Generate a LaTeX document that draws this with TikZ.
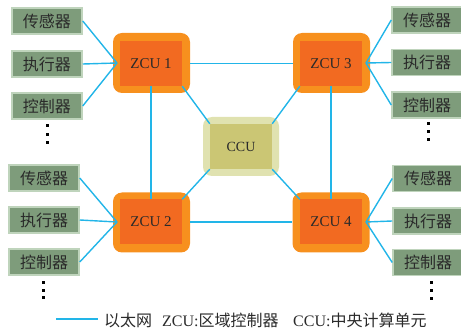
\documentclass[tikz,border=0pt]{standalone}
\usepackage{fontspec}
\setmainfont{Liberation Serif}
\newfontfamily\cjk{Noto Sans CJK SC}
\definecolor{boxfill}{HTML}{7E9C7B}
\definecolor{boxedge}{HTML}{BFD4BC}
\definecolor{zout}{HTML}{F7901E}
\definecolor{zin}{HTML}{F26A21}
\definecolor{cout}{HTML}{E0E2B0}
\definecolor{cin}{HTML}{CBC674}
\definecolor{net}{HTML}{22B5E8}
\definecolor{ink}{HTML}{2A2A2A}
\begin{document}
\begin{tikzpicture}[x=1pt,y=-1pt,
  devbox/.style={draw=boxedge,line width=1.5pt,fill=boxfill,minimum width=70pt,minimum height=26pt,inner sep=0pt,text=ink,font=\cjk\fontsize{16}{16}\selectfont},
  zouter/.style={fill=zout,rounded corners=9pt,minimum width=77pt,minimum height=60pt,inner sep=0pt},
  zinner/.style={fill=zin,minimum width=62pt,minimum height=45pt,inner sep=0pt,text=ink,font=\fontsize{15}{15}\selectfont},
  couter/.style={fill=cout,rounded corners=9pt,minimum width=76pt,minimum height=59pt,inner sep=0pt},
  cinner/.style={fill=cin,minimum width=62pt,minimum height=45pt,inner sep=0pt,text=ink,font=\fontsize{14}{14}\selectfont},
  link/.style={draw=net,line width=1.4pt},
  dot/.style={fill=black,minimum size=3pt,inner sep=0pt}
]
\useasboundingbox (0,0) rectangle (461,331);

% ZCU and CCU boxes
\node[zouter] (z1o) at (151.5,63) {};
\node[zinner] (z1) at (151,63.5) {ZCU 1};
\node[zouter] (z3o) at (331.5,63) {};
\node[zinner] (z3) at (331,63.5) {ZCU 3};
\node[zouter] (z2o) at (151.5,222.5) {};
\node[zinner] (z2) at (151,222) {ZCU 2};
\node[zouter] (z4o) at (331,222.5) {};
\node[zinner] (z4) at (331,222) {ZCU 4};
\node[couter] (co) at (241,146.5) {};
\node[cinner] (c) at (241,146.5) {CCU};

% device boxes
\node[devbox] (l1) at (47,21) {传感器};
\node[devbox] (l2) at (47,64) {执行器};
\node[devbox] (l3) at (47,106) {控制器};
\node[devbox] (l4) at (44,178) {传感器};
\node[devbox] (l5) at (44,220) {执行器};
\node[devbox] (l6) at (44,262) {控制器};
\node[devbox] (r1) at (427,20) {传感器};
\node[devbox] (r2) at (427,62.5) {执行器};
\node[devbox] (r3) at (427,105) {控制器};
\node[devbox] (r4) at (428,178.5) {传感器};
\node[devbox] (r5) at (428,221) {执行器};
\node[devbox] (r6) at (428,262.5) {控制器};

% dots
\foreach \yy [count=\i] in {126,134.5,143} \node[dot] (dl1\i) at (47,\yy) {};
\foreach \yy [count=\i] in {283,290.5,298} \node[dot] (dl2\i) at (43,\yy) {};
\foreach \yy [count=\i] in {124,132,140} \node[dot] (dr1\i) at (428,\yy) {};
\foreach \yy [count=\i] in {283,291,299} \node[dot] (dr2\i) at (431,\yy) {};

% convergence points
\coordinate (p1) at (117,63);
\coordinate (p2) at (117,222);
\coordinate (p3) at (366,63);
\coordinate (p4) at (366,222);

% links devices
\foreach \b in {l1,l2,l3} \draw[link] (\b.east) -- (p1);
\foreach \b in {l4,l5,l6} \draw[link] (\b.east) -- (p2);
\foreach \b in {r1,r2,r3} \draw[link] (\b.west) -- (p3);
\foreach \b in {r4,r5,r6} \draw[link] (\b.west) -- (p4);

% backbone
\draw[link] (z1o.east |- z1) -- (z3o.west |- z1);
\draw[link] (z2o.east |- z2) -- (z4o.west |- z2);
\draw[link] (z1.south) -- (z2.north);
\draw[link] (z3.south) -- (z4.north);
\draw[link] (z1.south east) -- (c.north west);
\draw[link] (z3.south west) -- (c.north east);
\draw[link] (z2.north east) -- (c.south west);
\draw[link] (z4.north west) -- (c.south east);

% legend
\coordinate (la) at (56,319);
\coordinate (lb) at (98,319);
\draw[link] (la) -- (lb);
\node[anchor=west,inner sep=0pt,text=ink,font=\cjk\fontsize{16}{16}\selectfont] (t1) at (104,320) {以太网};
\node[anchor=west,inner sep=0pt,text=ink,font=\fontsize{16}{16}\selectfont] (t2) at (162,320) {ZCU:{\cjk 区域控制器}};
\node[anchor=west,inner sep=0pt,text=ink,font=\fontsize{16}{16}\selectfont] (t3) at (293,320) {CCU:{\cjk 中央计算单元}};
\end{tikzpicture}
\end{document}
